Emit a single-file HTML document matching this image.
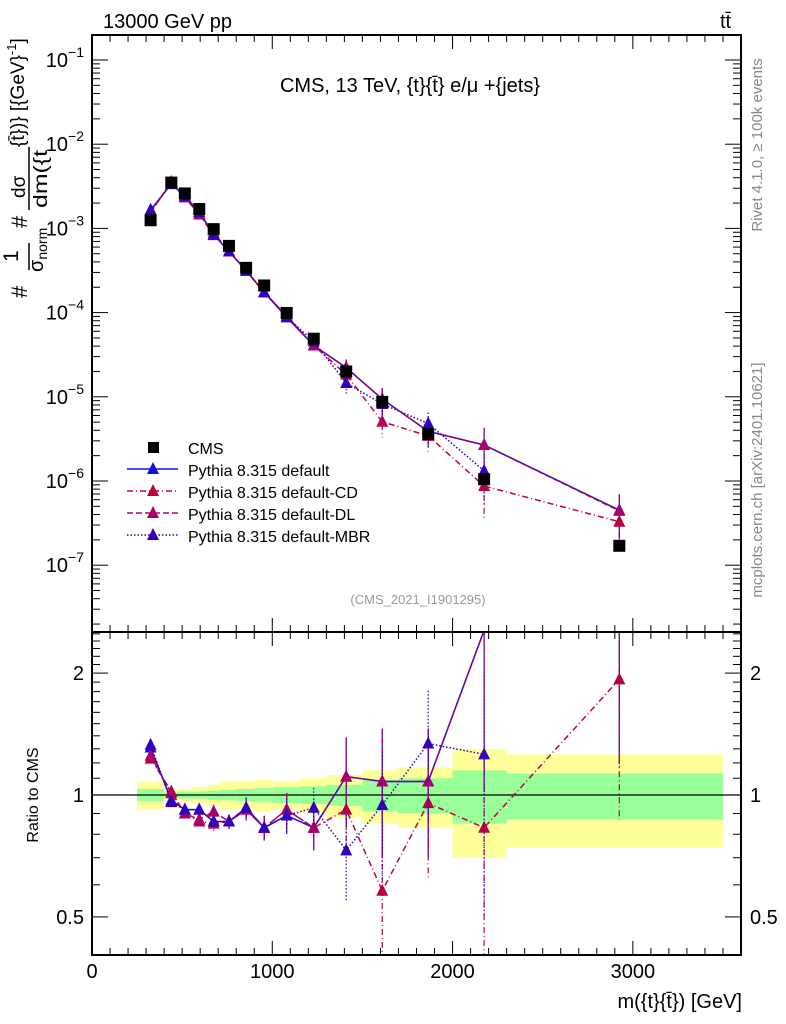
<!DOCTYPE html>
<html><head><meta charset="utf-8"><style>
body{margin:0;background:#fff;}
svg{display:block;font-family:"Liberation Sans",sans-serif;}
</style></head><body>
<svg id="c" width="786" height="1024" viewBox="0 0 786 1024" xmlns="http://www.w3.org/2000/svg">
<text x="103" y="28" font-size="20">13000 GeV pp</text>
<text x="720" y="28" font-size="20">tt̄</text>
<text x="410" y="92" font-size="20" text-anchor="middle">CMS, 13 TeV, {t}{t̄} e/μ +{jets}</text>
<text x="418" y="604" font-size="13" fill="#999" text-anchor="middle">(CMS_2021_I1901295)</text>
<text transform="translate(762,145) rotate(-90)" font-size="15" fill="#888" text-anchor="middle">Rivet 4.1.0, ≥ 100k events</text>
<text transform="translate(762,480) rotate(-90)" font-size="15" fill="#888" text-anchor="middle">mcplots.cern.ch [arXiv:2401.10621]</text>
<g transform="translate(0,300) rotate(-90)">
<text x="2" y="27" font-size="22">#</text>
<text x="38" y="18" font-size="21">1</text>
<line x1="30" x2="57" y1="29" y2="29" stroke="#000" stroke-width="1.5"/>
<text x="28" y="43" font-size="20">σ<tspan font-size="14" dy="4">norm</tspan></text>
<text x="72" y="27" font-size="22">#</text>
<text x="102" y="25" font-size="19">dσ</text>
<line x1="90" x2="153" y1="29" y2="29" stroke="#000" stroke-width="1.5"/>
<text x="92" y="47" font-size="19" textLength="58" lengthAdjust="spacingAndGlyphs">dm({t</text>
<text x="153" y="24" font-size="19">{t̄})} [{GeV}<tspan font-size="13" dy="-8">-1</tspan><tspan dy="8">]</tspan></text>
</g>
<text transform="translate(38,795) rotate(-90)" font-size="16" text-anchor="middle">Ratio to CMS</text>
<text x="742" y="1008" font-size="20" text-anchor="end">m({t}{t̄}) [GeV]</text>
<g id="g"></g>
</svg>
<script>
const edges=[250,400,480,550,640,710,800,900,1000,1150,1300,1500,1700,2000,2300,3500];
const centers=[325,440,515,595,675,760,855,955,1080,1230,1410,1610,1865,2175,2925];
const cmsVals=[1.25e-3,3.5e-3,2.6e-3,1.7e-3,9.8e-4,6.2e-4,3.4e-4,2.1e-4,9.9e-5,4.9e-5,2.0e-5,8.7e-6,3.6e-6,1.05e-6,1.7e-7];
const totUp=[0.08,0.03,0.035,0.045,0.06,0.08,0.08,0.09,0.08,0.10,0.12,0.15,0.17,0.30,0.26];
const totDn=[0.08,0.03,0.035,0.045,0.06,0.08,0.08,0.09,0.08,0.10,0.12,0.15,0.17,0.30,0.26];
const statRel=[0.035,0.015,0.02,0.02,0.025,0.03,0.035,0.04,0.045,0.05,0.06,0.09,0.10,0.15,0.13];
const rDefault=[1.31,0.97,0.92,0.92,0.86,0.86,0.93,0.83,0.89,0.83,1.11,1.08,1.08,2.55,2.65];
const rCD=[1.23,1.02,0.90,0.86,0.85,0.86,0.92,0.83,0.92,0.83,0.92,0.58,0.955,0.83,1.93];
const rDL=[1.25,1.01,0.90,0.87,0.91,0.86,0.92,0.83,0.92,0.83,1.11,1.08,1.08,2.55,2.6];
const rMBR=[1.33,0.96,0.92,0.92,0.86,0.86,0.93,0.83,0.89,0.93,0.73,0.945,1.34,1.26,null];
const errMC=[0.02,0.01,0.02,0.03,0.04,0.04,0.06,0.07,0.1,0.12,0.25,0.35,0.35,0.6,0.55];
const NS="http://www.w3.org/2000/svg",G=document.getElementById('g');
const X=v=>92+v*(649/3600);
const Ym=v=>60+(-1-Math.log10(v))*84.2;
const Yr=v=>795-405*Math.log10(v);
function el(t,a,p){const e=document.createElementNS(NS,t);for(const k in a)e.setAttribute(k,a[k]);(p||G).appendChild(e);return e;}
const defs=el('defs',{});
const c1=el('clipPath',{id:'cm'},defs);el('rect',{x:92,y:35,width:649,height:597},c1);
const c2=el('clipPath',{id:'cr'},defs);el('rect',{x:92,y:633,width:649,height:322},c2);
const gm=el('g',{'clip-path':'url(#cm)'});


const gr=el('g',{'clip-path':'url(#cr)'});


for(let i=0;i<centers.length;i++){
 const x0=X(edges[i]),x1=X(edges[i+1]);
 const b=el('rect',{x:x0,y:Yr(1+totUp[i]),width:x1-x0,height:Yr(1-totDn[i])-Yr(1+totUp[i]),fill:'#ffff99'},gr);
 
 
 const s=el('rect',{x:x0,y:Yr(1+statRel[i]),width:x1-x0,height:Yr(1-statRel[i])-Yr(1+statRel[i]),fill:'#99ff99'},gr);
 
 
}
el('line',{x1:92,x2:741,y1:795,y2:795,stroke:'#000','stroke-width':1.3},gr);
const series=[
 {n:'default',r:rDefault,c:'#1010dd',d:''},
 {n:'default-cd',r:rCD,c:'#bb0044',d:'6,3,1,3'},
 {n:'default-dl',r:rDL,c:'#aa0066',d:'6,3'},
 {n:'default-mbr',r:rMBR,c:'#3300bb',d:'1.5,2'}];
function tri(x,y,c,p,name){const t=el('polygon',{points:`${x},${y-7} ${x-6},${y+5} ${x+6},${y+5}`,fill:c},p);}
series.forEach(s=>{
 const pm=[],pr=[];
 s.r.forEach((r,i)=>{if(r==null)return;pm.push([X(centers[i]),Ym(r*cmsVals[i])]);pr.push([X(centers[i]),Yr(r)]);});
 [[gm,pm],[gr,pr]].forEach(([p,pts])=>{
  const l=el('polyline',{points:pts.map(q=>q.join(',')).join(' '),fill:'none',stroke:s.c,'stroke-width':1.5,'stroke-dasharray':s.d},p);
  
  
 });
 s.r.forEach((r,i)=>{if(r==null)return;const x=X(centers[i]);const e=errMC[i];
  const v=r*cmsVals[i];
  el('line',{x1:x,x2:x,y1:Ym(v*(1+e)),y2:Ym(v*Math.max(1-e,0.3)),stroke:s.c,'stroke-width':1.2,'stroke-dasharray':s.d},gm);
  el('line',{x1:x,x2:x,y1:Yr(r*(1+e)),y2:Yr(Math.max(r*(1-e),0.3)),stroke:s.c,'stroke-width':1.2,'stroke-dasharray':s.d},gr);
  tri(x,Ym(v),s.c,gm,'marker-'+s.n);
  if(Yr(r)>632)tri(x,Yr(r),s.c,gr,'ratio-marker-'+s.n);
 });
});
cmsVals.forEach((v,i)=>{const x=X(centers[i]),y=Ym(v);
 const r=el('rect',{x:x-6,y:y-6,width:12,height:12,fill:'#000'},gm);
 
 });
el('rect',{x:92,y:35,width:649,height:597,fill:'none',stroke:'#000','stroke-width':2});
el('rect',{x:92,y:632,width:649,height:323,fill:'none',stroke:'#000','stroke-width':2});
for(let v=0;v<=3500;v+=100){const x=X(v),L=v%1000==0?14:7;
 el('line',{x1:x,x2:x,y1:632,y2:632+L,stroke:'#000'});el('line',{x1:x,x2:x,y1:955,y2:955-L,stroke:'#000'});
 el('line',{x1:x,x2:x,y1:632,y2:632-L,stroke:'#000'});el('line',{x1:x,x2:x,y1:35,y2:35+L,stroke:'#000'});
 if(v%1000==0){const t=el('text',{x:x,y:978,'font-size':20,'text-anchor':'middle'});t.textContent=v;}}
for(let d=-8;d<=-1;d++){for(let m=1;m<10;m++){const v=m*Math.pow(10,d);const y=Ym(v);if(y<35||y>632)continue;const L=m==1?16:8;
 el('line',{x1:92,x2:92+L,y1:y,y2:y,stroke:'#000'});el('line',{x1:741,x2:741-L,y1:y,y2:y,stroke:'#000'});
 if(m==1){const t=el('text',{x:84,y:y+7,'font-size':20,'text-anchor':'end'});t.innerHTML='10<tspan font-size="14" dy="-10">−'+(-d)+'</tspan>';}}}
[0.5,0.6,0.7,0.8,0.9,1,1.1,1.2,1.3,1.4,1.5,1.6,1.7,1.8,1.9,2,2.1,2.2,2.3,2.4,2.5].forEach(v=>{const y=Yr(v);if(y<632||y>955)return;const L=(v==0.5||v==1||v==2)?16:8;
 el('line',{x1:92,x2:92+L,y1:y,y2:y,stroke:'#000'});el('line',{x1:741,x2:741-L,y1:y,y2:y,stroke:'#000'});
 if(L==16){const t=el('text',{x:84,y:y+7,'font-size':20,'text-anchor':'end'});t.textContent=v;
 const t2=el('text',{x:750,y:y+7,'font-size':20});t2.textContent=v;}});
const lg=el('g',{});


const leg=[['CMS',null],['Pythia 8.315 default',series[0]],['Pythia 8.315 default-CD',series[1]],['Pythia 8.315 default-DL',series[2]],['Pythia 8.315 default-MBR',series[3]]];
leg.forEach((e,i)=>{const y=447+i*22;
 const g=el('g',{},lg);
 if(!e[1])el('rect',{x:148,y:y-5,width:11,height:11,fill:'#000'},g);
 else{el('line',{x1:127,x2:178,y1:y,y2:y,stroke:e[1].c,'stroke-width':1.5,'stroke-dasharray':e[1].d},g);tri(153,y,e[1].c,g,'legend-marker');}
 const t=el('text',{x:188,y:y+7,'font-size':16},g);t.textContent=e[0];});
</script>
</body></html>
